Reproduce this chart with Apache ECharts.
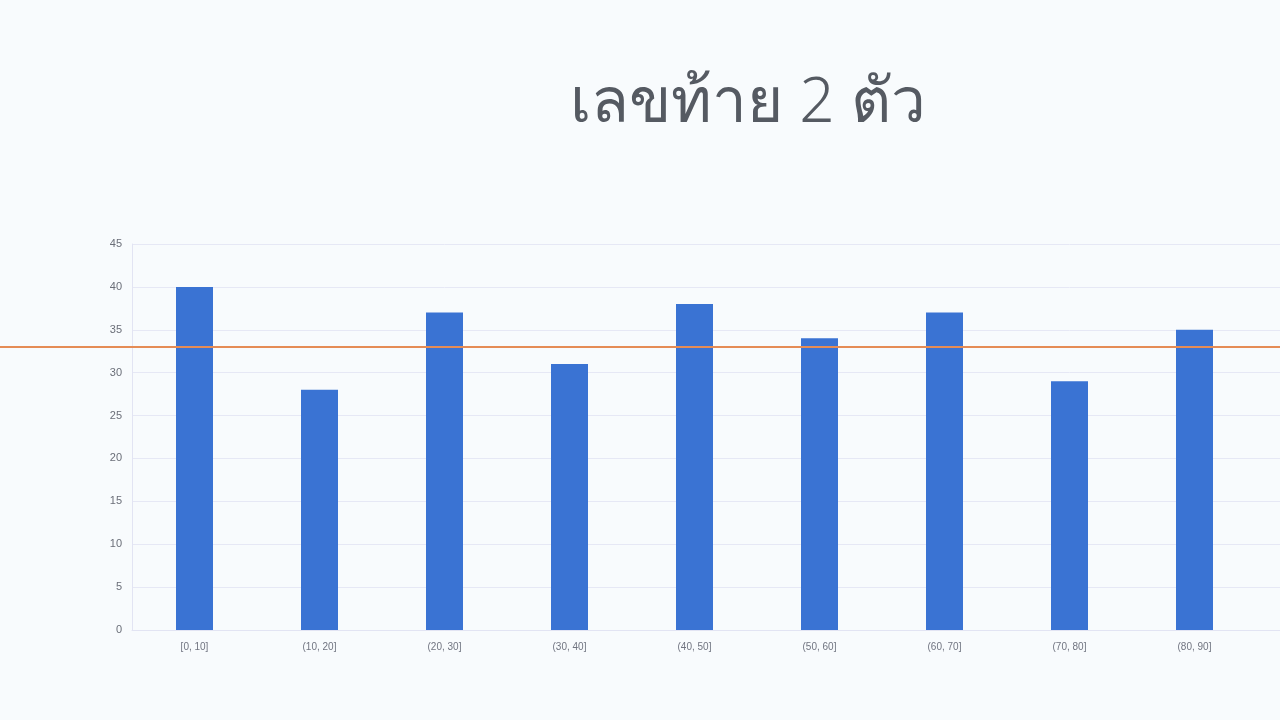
<!DOCTYPE html>
<html>
<head>
<meta charset="utf-8">
<script src="https://cdn.jsdelivr.net/npm/echarts@6/dist/echarts.min.js"></script>
<style>
html,body{margin:0;padding:0;background:#f8fbfd;overflow:hidden;width:1280px;height:720px;}
#c{width:1382px;height:720px;}
</style>
</head>
<body>
<div id="c"></div>
<script>
const titleText = 'เลขท้าย 2 ตัว';
const categories = ['[0, 10]', '(10, 20]', '(20, 30]', '(30, 40]', '(40, 50]', '(50, 60]', '(60, 70]', '(70, 80]', '(80, 90]', '(90, 100]'];
const counts = [40, 28, 37, 31, 38, 34, 37, 29, 35, null];
const referenceLine = 33;
const yMin = 0, yMax = 45, yStep = 5;

const chart = echarts.init(document.getElementById('c'));
chart.setOption({
  backgroundColor: '#f8fbfd',
  animation: false,
  title: {
    text: titleText,
    left: 743, top: 68, textAlign: 'center',
    textStyle: { fontSize: 62, fontWeight: 300, color: '#555a62', fontFamily: 'Noto Sans, sans-serif' }
  },
  grid: [
    { left: 132, right: 0, top: 244, bottom: 90, containLabel: false },
    { left: 0, right: 0, top: 244, bottom: 90, containLabel: false }
  ],
  xAxis: [
    {
      type: 'category', gridIndex: 0, data: categories,
      axisLine: { lineStyle: { color: '#e2e4f3', width: 1 } },
      axisTick: { show: false },
      axisLabel: { color: '#707480', fontSize: 10, margin: 12 }
    },
    { type: 'value', gridIndex: 1, show: false, min: 0, max: 1 }
  ],
  yAxis: [
    {
      type: 'value', gridIndex: 0, min: yMin, max: yMax, interval: yStep,
      axisLine: { show: true, lineStyle: { color: '#e2e4f3' } },
      axisTick: { show: false },
      axisLabel: { color: '#6a6e78', fontSize: 11, margin: 10 },
      splitLine: { lineStyle: { color: '#e6e8f5', width: 1 } }
    },
    { type: 'value', gridIndex: 1, show: false, min: yMin, max: yMax }
  ],
  series: [
    {
      type: 'bar', xAxisIndex: 0, yAxisIndex: 0, data: counts,
      barWidth: 37,
      itemStyle: { color: '#3a73d3' }
    },
    {
      type: 'line', xAxisIndex: 1, yAxisIndex: 1, data: [],
      markLine: {
        silent: true, symbol: 'none', label: { show: false },
        lineStyle: { color: '#e58c55', width: 2, type: 'solid' },
        data: [{ yAxis: referenceLine }]
      }
    }
  ]
});
</script>
</body>
</html>
